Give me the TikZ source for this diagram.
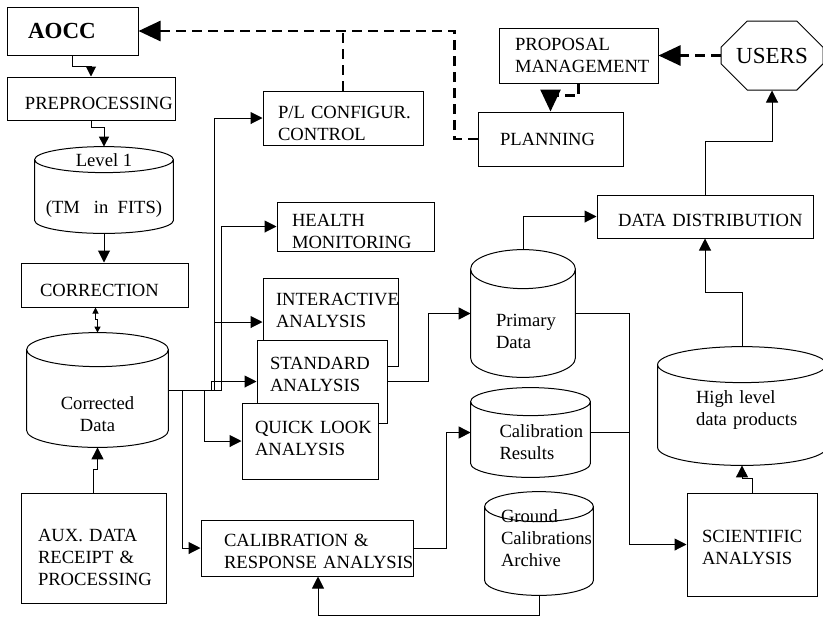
\documentclass[tikz,border=0pt]{standalone}
\usepackage{fontspec}
\setmainfont{Liberation Serif}
\usetikzlibrary{arrows.meta,calc,shapes.misc}
\hyphenpenalty=10000
\exhyphenpenalty=10000
\newcommand\txtdn[1]{\rule{0pt}{\dimexpr6.2pt+#1pt\relax}}
\newcommand\txtup[1]{\rule[-#1pt]{0pt}{0pt}}

\begin{document}
\begin{tikzpicture}[x=0.5pt,y=-0.5pt,font=\fontsize{9.3}{11}\selectfont,
  >={Triangle[length=6pt,width=6pt]},
  box/.style={draw,fill=white,line width=.5pt,align=left,inner sep=0pt},
  db/.style={inner sep=0pt,align=left},
  ln/.style={line width=.5pt},
  dsh/.style={line width=1.3pt,dash pattern=on 5pt off 3pt,>={Triangle[length=11pt,width=10pt]}}]
\useasboundingbox (0,0) rectangle (823,617);

\node[box,minimum width=65.5pt,minimum height=24pt,text width=44.5pt,font=\fontsize{11.5}{13}\selectfont\bfseries] (aocc) at (72.5,31) {AOCC};
\node[box,minimum width=84pt,minimum height=21.5pt,text width=66pt] (prep) at (91,98.5) {\txtdn{5}PREPROCESSING};
\node[db,align=center,minimum width=69pt,minimum height=43pt] (lvl) at (104,190) {Level~1\\[12.5pt](TM~~~in~~FITS)\txtup{6.7}};
\node[box,minimum width=83.5pt,minimum height=22pt,text width=64.5pt] (corr) at (104.5,285) {\txtdn{5}CORRECTION};
\node[db,align=center,minimum width=70.5pt,minimum height=57pt] (cdata) at (97.5,390) {\txtdn{24}Corrected\\Data};
\node[box,minimum width=72.5pt,minimum height=55pt,text width=55.5pt] (aux) at (93.5,548) {\txtdn{9}AUX.~DATA\\RECEIPT~\&\\PROCESSING};
\node[box,minimum width=106pt,minimum height=28pt,text width=83pt] (calib) at (307,548) {\txtdn{3}CALIBRATION~\&\\RESPONSE~ANALYSIS};

\node[box,minimum width=80pt,minimum height=27pt,text width=65pt] (plconf) at (343,118) {\txtdn{5}P/L~CONFIGUR.\\CONTROL};
\node[box,minimum width=78.5pt,minimum height=24.5pt,text width=63.5pt] (health) at (355.5,226.5) {\txtdn{5}HEALTH\\MONITORING};
\node[box,minimum width=67.5pt,minimum height=44pt,text width=54.5pt] (inter) at (330.5,322) {INTERACTIVE\\ANALYSIS\txtup{12}};
\node[box,minimum width=65pt,minimum height=41.5pt,text width=52pt] (std) at (322,381.5) {STANDARD\\ANALYSIS\txtup{7}};
\node[box,minimum width=68pt,minimum height=38pt,text width=55pt] (quick) at (310,441) {QUICK~LOOK\\ANALYSIS\txtup{3}};

\node[box,minimum width=79.5pt,minimum height=27.5pt,text width=63.5pt] (prop) at (578.5,55.5) {PROPOSAL\\MANAGEMENT};
\node[box,minimum width=72.5pt,minimum height=27pt,text width=50.5pt] (plan) at (550.5,139) {PLANNING};
\node[chamfered rectangle,chamfered rectangle xsep=9.25pt,chamfered rectangle ysep=9.25pt,draw,line width=.5pt,inner sep=0pt,minimum width=51pt,minimum height=34.5pt,font=\fontsize{11.5}{13}\selectfont] (users) at (772,55.5) {USERS};
\node[box,minimum width=108pt,minimum height=21.5pt,text width=87pt] (dist) at (705,216.5) {\txtdn{4}DATA~DISTRIBUTION};

\node[db,minimum width=52pt,minimum height=63.5pt,text width=27pt] (prim) at (523,313.5) {\txtdn{17.5}Primary\\Data};
\node[db,minimum width=59.5pt,minimum height=44.5pt,text width=31pt] (calres) at (530.5,432.5) {\txtdn{10}Calibration\\Results};
\node[db,minimum width=54pt,minimum height=51.5pt,text width=38pt] (ground) at (539,543.5) {Ground\\Calibrations\\Archive\txtup{5.5}};
\node[db,minimum width=84pt,minimum height=59pt,text width=46pt] (hilev) at (742,406) {\txtdn{4.5}High~level\\data~products};
\node[box,minimum width=65pt,minimum height=51.5pt,text width=50pt] (sci) at (752,544.5) {\txtdn{3}SCIENTIFIC\\ANALYSIS};

\foreach \cy/\r in {lvl/6.5pt,cdata/8.5pt,prim/9.75pt,calres/7pt,ground/7.5pt,hilev/9pt}
  \draw[ln] let \p1=(\cy.north west),\p2=(\cy.north east),\n1={(\x2-\x1)/2} in
    ([yshift=-\r]\cy.north west) -- ([yshift=\r]\cy.south west)
    arc[start angle=180,end angle=360,x radius=\n1,y radius=\r]
    -- ([yshift=-\r]\cy.north east)
    arc[start angle=0,end angle=360,x radius=\n1,y radius=\r];

\draw[ln,->,>={Triangle[length=5pt,width=5pt]}] (aocc.south) -- ++(0,11) -| (prep.north);
\draw[ln,->,>={Triangle[length=5pt,width=5pt]}] (prep.south) -- ++(0,7) -| (lvl.north);
\draw[ln,->] (lvl.south) -- (lvl.south |- corr.north);
\draw[ln,<->,>={Triangle[length=3pt,width=3pt]}] ($(corr.south)+(-9,0)$) -- ++(0,12) -| (cdata.north);
\draw[ln,->] (aux.north) -- ++(0,-23) -| (cdata.south);

\coordinate (hub) at (cdata.east);
\foreach \n/\d in {calib/18,quick/37,std/45,plconf/48,health/55}
  \draw[ln,->] (hub) -| ($(\n.west)+(-\d,0)$) -- (\n.west);
\draw[ln,->] ($(inter.west)+(-48,0)$) -- (inter.west);

\draw[ln,->] (std.east) -- ++(41,0) |- (prim.west);
\draw[ln,->] (prim.north) |- (dist.west);
\draw[ln,->] (dist.north) -- ++(0,-53) -| (users.south);
\draw[ln,->] (hilev.north) -- ++(0,-54) -| (dist.south);
\draw[ln,->] (sci.north) -- ++(0,-14) -| (hilev.south);
\draw[ln,->] (prim.east) -| ($(sci.west)+(-57,0)$) -- (sci.west);
\draw[ln] (calres.east) -- ++(39,0);
\draw[ln,->] (calib.east) -- ++(33,0) |- (calres.west);
\draw[ln,->] (ground.south) -- ++(0,20) -| ($(calib.south)+(11,0)$);

\draw[dsh,->] (users.west) -- (prop.east);
\draw[dsh,->] (prop.south) -- ++(0,12) -| (plan.north);
\draw[dsh,->] (plan.west) -- ++(-23,0) |- (aocc.east);
\draw[dsh] (plconf.north) -- (plconf.north |- aocc.east);
\end{tikzpicture}
\end{document}
